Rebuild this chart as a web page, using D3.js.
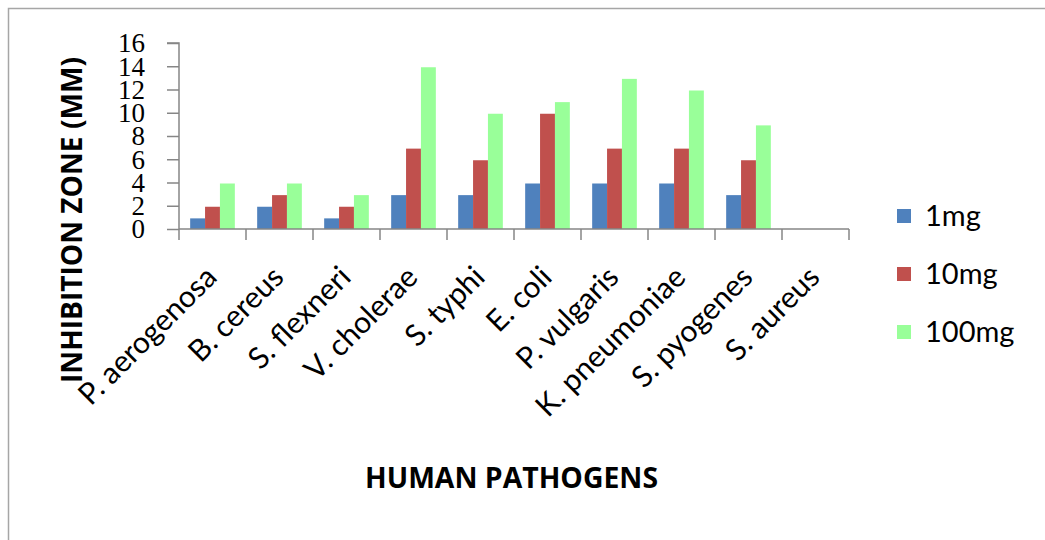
<!DOCTYPE html>
<html><head><meta charset="utf-8">
<script src="https://cdn.jsdelivr.net/npm/d3@7"></script>
<style>body{margin:0;background:#fff}svg{display:block}</style>
</head><body>
<svg id="c" width="1045" height="540"></svg>
<script>
const categories = ["P. aerogenosa","B. cereus","S. flexneri","V. cholerae","S. typhi","E. coli","P. vulgaris","K. pneumoniae","S. pyogenes","S. aureus"];
const seriesNames = ["1mg","10mg","100mg"];
const values1mg = [1,2,1,3,3,4,4,4,3,0];
const values10mg = [2,3,2,7,6,10,7,7,6,0];
const values100mg = [4,4,3,14,10,11,13,12,9,0];
const yTicks = [0,2,4,6,8,10,12,14,16];
const colors = ["#4F81BD","#C0504D","#99FF99"];
const yTitle = "INHIBITION ZONE (MM)";
const xTitle = "HUMAN PATHOGENS";

(function(){
const series = [values1mg, values10mg, values100mg];
const svg = d3.select("#c");
svg.append("rect").attr("x",8.5).attr("y",8.5).attr("width",1100).attr("height",600)
  .attr("fill","none").attr("stroke","#a6a6a6").attr("stroke-width",1.5);

const pl=179, pr=849, pt=43, pb=229;
const x = d3.scaleBand().domain(categories).range([pl,pr]).paddingInner(0).paddingOuter(0);
const y = d3.scaleLinear().domain([0,16]).range([pb,pt]);
const bw = x.bandwidth()/4.5;
const axisColor="#868686";

series.forEach((vals,si)=>{
  svg.append("g").selectAll("rect").data(categories).join("rect")
    .attr("x",c=>x(c)+bw*0.75+si*bw)
    .attr("y",(c,i)=>y(vals[i])+1)
    .attr("width",bw)
    .attr("height",(c,i)=>Math.max(0,y(0)-y(vals[i])-1))
    .attr("fill",colors[si]);
});

const yAxis = d3.axisLeft(y).tickValues(yTicks).tickSize(12).tickPadding(22);
const gy = svg.append("g").attr("transform",`translate(${pl},0)`).call(yAxis);
gy.select(".domain").attr("stroke",axisColor).attr("stroke-width",1.5).attr("d",`M-12,${pt}H0V${pb}`);
gy.selectAll(".tick line").attr("stroke",axisColor).attr("stroke-width",1.5);
gy.selectAll(".tick text").attr("font-family","'Liberation Serif',serif").attr("font-size",27).attr("fill","#000").attr("dy","0.33em");

const xAxis = d3.axisBottom(x).tickSize(0).tickFormat("");
const gx = svg.append("g").attr("transform",`translate(0,${pb})`).call(xAxis);
gx.select(".domain").attr("stroke",axisColor).attr("stroke-width",1.5).attr("d",`M${pl},0H${pr}`);
const bounds = categories.map(c=>x(c)).concat([pr]);
gx.selectAll("line.b").data(bounds).join("line").attr("class","b")
  .attr("x1",d=>d).attr("x2",d=>d).attr("y1",0).attr("y2",11)
  .attr("stroke",axisColor).attr("stroke-width",1.5);
gx.selectAll("text.lab").data(categories).join("text").attr("class","lab")
  .attr("transform",c=>`translate(${x(c)+x.bandwidth()/2+6},${50}) rotate(-45)`)
  .attr("text-anchor","end")
  .attr("font-family","Lato, 'Open Sans', sans-serif").attr("font-size",30)
  .attr("fill","#000").text(c=>c);

svg.append("text").attr("transform","translate(82,220) rotate(-90)")
  .attr("text-anchor","middle").attr("font-family","'Open Sans',sans-serif").attr("font-weight",700)
  .attr("font-size",28).attr("textLength",326).attr("lengthAdjust","spacingAndGlyphs").text(yTitle);
svg.append("text").attr("x",511.5).attr("y",488)
  .attr("text-anchor","middle").attr("font-family","'Open Sans',sans-serif").attr("font-weight",700)
  .attr("font-size",28).attr("textLength",293).attr("lengthAdjust","spacingAndGlyphs").text(xTitle);

const legY=[216,274,332];
const lg = svg.append("g");
seriesNames.forEach((n,i)=>{
  lg.append("rect").attr("x",897).attr("y",legY[i]-7).attr("width",14).attr("height",14).attr("fill",colors[i]);
  lg.append("text").attr("x",925).attr("y",legY[i]).attr("dy","0.35em")
    .attr("font-family","Lato, 'Open Sans', sans-serif").attr("font-size",29).attr("fill","#000").text(n);
});
})();
</script>
</body></html>
